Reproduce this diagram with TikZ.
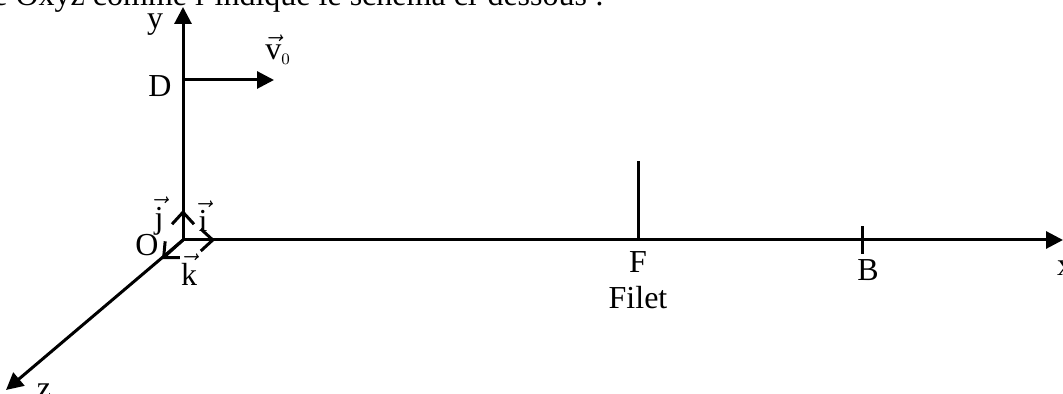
\documentclass[tikz,border=0pt]{standalone}
\usepackage{amsmath}
\usepackage{fontspec}
\setmainfont{Liberation Serif}
\usetikzlibrary{arrows.meta}

\begin{document}
\begin{tikzpicture}[
  x=0.5pt, y=0.5pt,
  axis/.style={line width=1.5pt, -{Triangle[length=8.5pt,width=8.5pt]}},
  unitvec/.style={line width=1.5pt, -{Straight Barb[length=6pt,width=11pt]}},
  plain/.style={line width=1.5pt},
  lbl/.style={inner sep=0pt, font=\fontsize{16}{19}\selectfont}
]
\useasboundingbox (0,0) rectangle (1063,394);
% axes
\coordinate (O) at (183,154);
\coordinate (ytip) at (183,387);
\coordinate (xtip) at (1063,154);
\coordinate (ztip) at (6,4);
\coordinate (D) at (183,314);
\coordinate (vtip) at (274,314);
\coordinate (Ftop) at (638,233);
\coordinate (F) at (638,154);
\coordinate (B) at (862,154);
\coordinate (jtip) at (183,184);
\coordinate (itip) at (215,154);
\coordinate (ktip) at (162,135);

\draw[axis] (O) -- (ytip);
\draw[axis] (O) -- (xtip);
\draw[axis] (O) -- (ztip);
\draw[axis] (D) -- (vtip);
\draw[plain] (F) -- (Ftop);
\draw[plain] ([yshift=-7]B) -- ([yshift=7]B);
\draw[unitvec] (O) -- (jtip);
\draw[unitvec] (O) -- (itip);
\draw[unitvec] (O) -- (ktip);

% labels
\node[lbl, anchor=base west] (titre) at (-7,388) {e Oxyz comme l'indique le schéma ci-dessous :};
\node[lbl] (ylbl) at (155,369) {y};
\node[lbl] (Dlbl) at (160,308) {D};
\node[lbl] (vlbl) at (278,344) {$\vec{\text{v}}_{\scriptscriptstyle 0}$};
\node[lbl] (Olbl) at (147,149) {O};
\node[lbl] (jlbl) at (159,178) {$\vec{\text{j}}$};
\node[lbl] (ilbl) at (203,178) {$\vec{\text{i}}$};
\node[lbl] (klbl) at (189,124) {$\vec{\text{k}}$};
\node[lbl] (Flbl) at (638,132) {F};
\node[lbl] (filet) at (638,96) {Filet};
\node[lbl] (Blbl) at (868,124) {B};
\node[lbl] (xlbl) at (1065,126) {x};
\node[lbl] (zlbl) at (44,3) {z};
\end{tikzpicture}
\end{document}
